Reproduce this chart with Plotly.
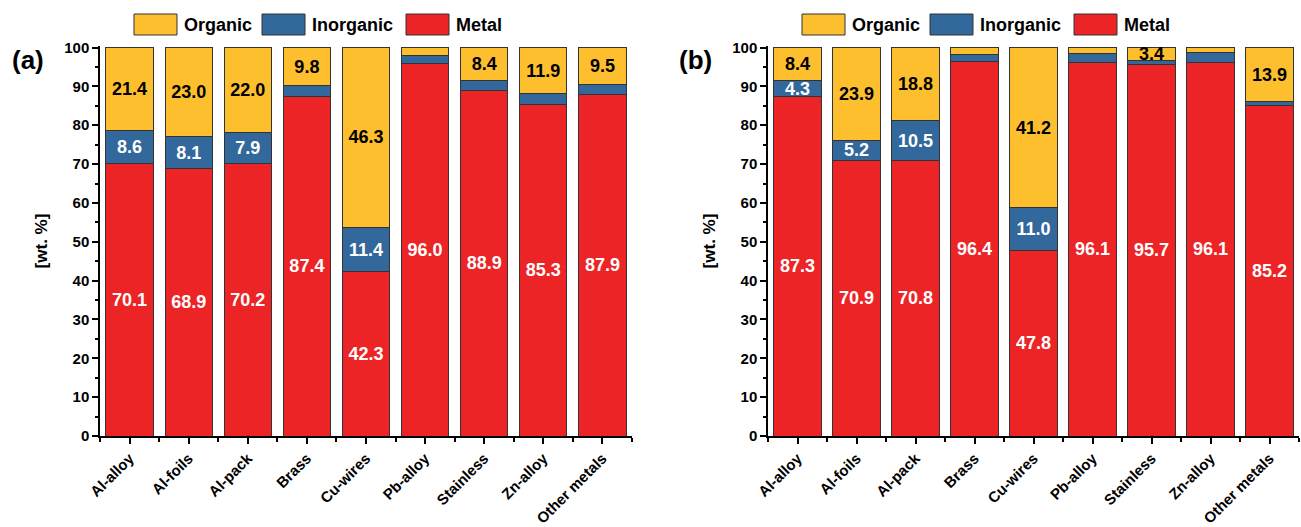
import plotly.graph_objects as go

# ---------------- data ----------------
categories = ["Al-alloy", "Al-foils", "Al-pack", "Brass", "Cu-wires",
              "Pb-alloy", "Stainless", "Zn-alloy", "Other metals"]
series_names = ["Metal", "Inorganic", "Organic"]

metal_a = [70.1, 68.9, 70.2, 87.4, 42.3, 96.0, 88.9, 85.3, 87.9]
inorganic_a = [8.6, 8.1, 7.9, 2.8, 11.4, 1.9, 2.7, 2.8, 2.6]
organic_a = [21.4, 23.0, 22.0, 9.8, 46.3, 2.1, 8.4, 11.9, 9.5]

metal_b = [87.3, 70.9, 70.8, 96.4, 47.8, 96.1, 95.7, 96.1, 85.2]
inorganic_b = [4.3, 5.2, 10.5, 1.8, 11.0, 2.4, 0.9, 2.5, 0.9]
organic_b = [8.4, 23.9, 18.8, 1.8, 41.2, 1.5, 3.4, 1.4, 13.9]

y_ticks = [0, 10, 20, 30, 40, 50, 60, 70, 80, 90, 100]
panel_labels = ["(a)", "(b)"]
y_title = "[wt. %]"

# ---------------- style ----------------
W, H = 1301, 527
PLOT_TOP, PLOT_BOT = 46, 436      # pixel rows of the plot area
PLOT_L, PLOT_R = 100, 1300        # pixel columns spanned by both panels
ML = PLOT_L
MR = W - PLOT_R
MT = PLOT_TOP
MB = H - PLOT_BOT
PW, PH = W - ML - MR, H - MT - MB
FONT = "Arial, 'Liberation Sans', sans-serif"
colors = {"Metal": "#EC2426", "Inorganic": "#32689B", "Organic": "#FDBF2D"}
text_colors = {"Metal": "white", "Inorganic": "white", "Organic": "black"}
edge = "#333333"
label_min = 3.0

def px2x(px):
    return (px - PLOT_L) / PW

def px2y(py):
    return (PLOT_BOT - py) / PH

panel_left_px = [100, 768]
panel_right_px = [632, 1299]

fig = go.Figure()
x_idx = list(range(len(categories)))

panels = [
    {"Metal": metal_a, "Inorganic": inorganic_a, "Organic": organic_a},
    {"Metal": metal_b, "Inorganic": inorganic_b, "Organic": organic_b},
]

for p, data in enumerate(panels):
    xa = "x" if p == 0 else "x2"
    ya = "y" if p == 0 else "y2"
    for name in series_names:
        vals = data[name]
        fig.add_trace(go.Bar(
            x=x_idx, y=vals, name=name, xaxis=xa, yaxis=ya,
            marker=dict(color=colors[name], line=dict(color=edge, width=1)),
            width=0.8,
            text=[f"{v:.1f}" if v >= label_min else "" for v in vals],
            textposition="inside", insidetextanchor="middle",
            textangle=0, constraintext="none",
            insidetextfont=dict(family=FONT, size=18, color=text_colors[name], weight="bold"),
            showlegend=False, hoverinfo="x+y+name",
        ))

axis_common_x = dict(
    range=[-0.5, 8.5], tickmode="array", tickvals=x_idx, ticktext=categories,
    tickangle=-45, showline=True, linecolor="black", linewidth=1.5,
    ticks="outside", ticklen=6, tickwidth=1.5, tickcolor="black",
    minor=dict(tick0=0.5, dtick=1, ticks="outside", ticklen=4, tickwidth=1.5, tickcolor="black"),
    tickfont=dict(family=FONT, size=15, color="black", weight="bold"),
    showgrid=False, zeroline=False, fixedrange=True,
)
axis_common_y = dict(
    range=[0, 100.4], tickmode="array", tickvals=y_ticks,
    showline=True, linecolor="black", linewidth=1.5,
    ticks="outside", ticklen=6, tickwidth=1.5, tickcolor="black",
    minor=dict(dtick=5, tick0=0, ticks="outside", ticklen=3, tickwidth=1.5, tickcolor="black"),
    tickfont=dict(family=FONT, size=15, color="black", weight="bold"),
    title=dict(text=y_title, font=dict(family=FONT, size=17, color="black", weight="bold"), standoff=12),
    showgrid=False, zeroline=False,
)

fig.update_layout(
    width=W, height=H, margin=dict(l=ML, r=MR, t=MT, b=MB),
    paper_bgcolor="white", plot_bgcolor="white",
    barmode="stack", showlegend=False,
    font=dict(family=FONT, color="black"),
    xaxis=dict(domain=[px2x(panel_left_px[0]), px2x(panel_right_px[0])], anchor="y", **axis_common_x),
    yaxis=dict(domain=[0, 1], anchor="x", **axis_common_y),
    xaxis2=dict(domain=[px2x(panel_left_px[1]), px2x(panel_right_px[1])], anchor="y2", **axis_common_x),
    yaxis2=dict(domain=[0, 1], anchor="x2", **axis_common_y),
)

# custom legends (large swatches) above each panel
legend_order = ["Organic", "Inorganic", "Metal"]
swatch_offsets = [34, 162, 306]
swatch_w, swatch_top, swatch_bot = 43, 14, 35
shapes, annos = [], []
for p in range(2):
    left = panel_left_px[p]
    for name, off in zip(legend_order, swatch_offsets):
        x0 = left + off
        shapes.append(dict(type="rect", xref="paper", yref="paper",
                           x0=px2x(x0), x1=px2x(x0 + swatch_w),
                           y0=px2y(swatch_bot), y1=px2y(swatch_top),
                           fillcolor=colors[name], line=dict(color=edge, width=1)))
        annos.append(dict(text=name, xref="paper", yref="paper",
                          x=px2x(x0 + swatch_w + 5), y=px2y(25),
                          xanchor="left", yanchor="middle", showarrow=False,
                          font=dict(family=FONT, size=18, color="black", weight="bold")))

panel_label_px = [(28, 60), (695, 60)]
for lab, (lx, ly) in zip(panel_labels, panel_label_px):
    annos.append(dict(text=lab, xref="paper", yref="paper", x=px2x(lx), y=px2y(ly),
                      xanchor="center", yanchor="middle", showarrow=False,
                      font=dict(family=FONT, size=26, color="black", weight="bold")))

fig.update_layout(shapes=shapes, annotations=annos)
fig.write_html(
    "out.html",
    config={"displayModeBar": False},
    post_script="document.body.style.margin='0';document.body.style.overflow='hidden';",
)
